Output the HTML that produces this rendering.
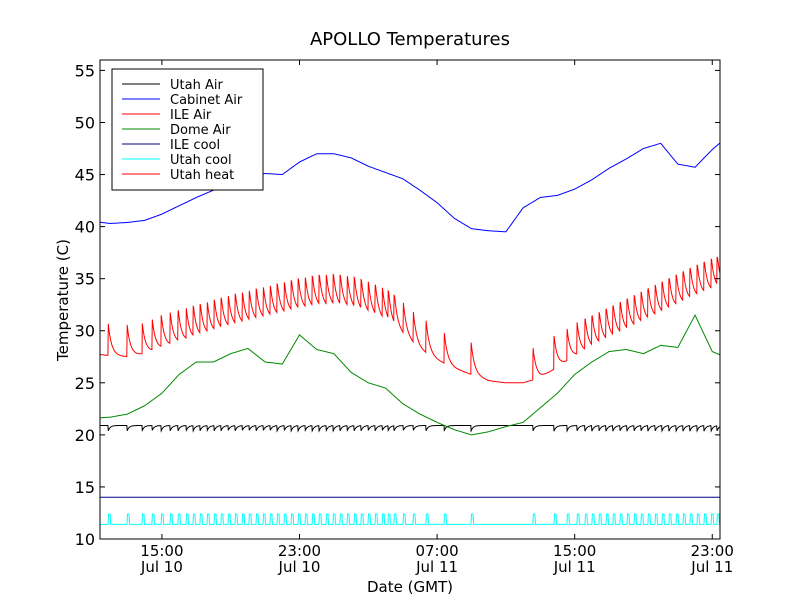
<!DOCTYPE html>
<html><head><meta charset="utf-8"><style>
body{margin:0;background:#fff}
svg{font-family:"DejaVu Sans","Liberation Sans",sans-serif}
</style></head><body>
<svg id="c" width="800" height="600" xmlns="http://www.w3.org/2000/svg"></svg>
<script>
const hours=[11,12,13,14,15,16,17,18,19,20,21,22,23,24,25,26,27,28,29,30,31,32,33,34,35,36,37,38,39,40,41,42,43,44,45,46,47,48];
const cabinetAir=[40.5,40.3,40.4,40.6,41.2,42.0,42.8,43.5,44.2,44.8,45.1,45.0,46.2,47.0,47.0,46.6,45.8,45.2,44.6,43.5,42.3,40.8,39.8,39.6,39.5,41.8,42.8,43.0,43.6,44.5,45.6,46.5,47.5,48.0,46.0,45.7,47.4,48.8];
const ileBase=[27.8,27.6,27.5,27.8,28.3,28.8,29.2,29.7,30.2,30.6,31.0,31.4,31.8,32.1,32.2,32.0,31.5,30.8,29.6,28.2,27.2,26.4,25.8,25.2,25.0,25.0,25.5,26.5,27.5,28.2,29.0,29.8,30.6,31.4,32.2,33.0,33.7,34.2];
const domeAir=[21.6,21.7,22.0,22.8,24.0,25.8,27.0,27.0,27.8,28.3,27.0,26.8,29.6,28.2,27.8,26.0,25.0,24.5,23.0,22.0,21.2,20.5,20.0,20.3,20.8,21.2,22.6,24.0,25.8,27.0,28.0,28.2,27.8,28.6,28.4,31.5,28.0,27.3];
const heaterTimes=[11.87,12.97,13.84,14.42,14.95,15.47,15.93,16.4,16.81,17.21,17.62,18.03,18.43,18.84,19.25,19.66,20.06,20.47,20.88,21.28,21.69,22.1,22.51,22.91,23.32,23.73,24.13,24.54,24.95,25.35,25.76,26.17,26.57,26.98,27.39,27.8,28.14,28.49,29.02,29.6,30.35,31.4,32.97,36.57,37.8,38.55,39.13,39.6,40.0,40.41,40.82,41.22,41.63,42.04,42.45,42.85,43.26,43.67,44.07,44.48,44.89,45.3,45.7,46.11,46.52,46.93,47.27];
const ileSpike=3.2, utahAirLevel=20.9, utahAirDip=0.55, utahHeatLow=11.4, utahHeatHigh=12.4, ileCool=14.0;
const yTicks=[10,15,20,25,30,35,40,45,50,55];
const xTickHours=[15,23,31,39,47];
const xTickLabels=[["15:00","Jul 10"],["23:00","Jul 10"],["07:00","Jul 11"],["15:00","Jul 11"],["23:00","Jul 11"]];
const legendNames=["Utah Air","Cabinet Air","ILE Air","Dome Air","ILE cool","Utah cool","Utah heat"];
const legendColors=["#000","#00f","#f00","#080","#008","#0ff","#f00"];

const L=100,R=720,T=60,B=539,h0=11.4,h1=47.45,y0=10,y1=56;
const X=h=>L+(h-h0)/(h1-h0)*(R-L);
const Y=v=>B-(v-y0)/(y1-y0)*(B-T);
const svg=document.getElementById('c');
const NS='http://www.w3.org/2000/svg';
function el(tag,attrs,parent){const e=document.createElementNS(NS,tag);for(const k in attrs)e.setAttribute(k,attrs[k]);(parent||svg).appendChild(e);return e;}
function interp(arr,h){if(h<=hours[0])return arr[0];for(let i=0;i<hours.length-1;i++){if(h<=hours[i+1]){const t=(h-hours[i])/(hours[i+1]-hours[i]);return arr[i]+t*(arr[i+1]-arr[i]);}}return arr[arr.length-1];}
const clip=el('clipPath',{id:'pc'});el('rect',{x:L,y:T,width:R-L,height:B-T},clip);
function line(pts,color,name){const p=el('polyline',{points:pts.map(q=>q[0].toFixed(1)+','+q[1].toFixed(1)).join(' '),fill:'none',stroke:color,'stroke-width':1,'clip-path':'url(#pc)'});

}
const step=0.02;
// series
let pts=[];
for(let h=h0;h<=h1;h+=step){let d=0;for(const t of heaterTimes){if(h>=t)d=Math.max(d,Math.exp(-(h-t)/0.12));}pts.push([X(h),Y(utahAirLevel-utahAirDip*d)]);}
line(pts,'#000','utah-air-line');
pts=[];for(let h=h0;h<=h1;h+=step)pts.push([X(h),Y(interp(cabinetAir,h))]);line(pts,'#00f','cabinet-air-line');
pts=[];for(let h=h0;h<=h1;h+=step){let d=0;for(const t of heaterTimes){if(h>=t)d+=Math.exp(-(h-t)/0.2);}pts.push([X(h),Y(interp(ileBase,h)+ileSpike*Math.min(d,1))]);}line(pts,'#f00','ile-air-line');
pts=[];for(let h=h0;h<=h1;h+=step)pts.push([X(h),Y(interp(domeAir,h))]);line(pts,'#080','dome-air-line');
line([[X(h0),Y(ileCool)],[X(h1),Y(ileCool)]],'#008','ile-cool-line');
pts=[[X(h0),Y(utahHeatLow)]];for(const t of heaterTimes){pts.push([X(t),Y(utahHeatLow)],[X(t)+0.5,Y(utahHeatHigh)],[X(t)+2,Y(utahHeatHigh)],[X(t)+2.5,Y(utahHeatLow)]);}pts.push([X(h1),Y(utahHeatLow)]);line(pts,'#0ff','utah-heat-line');
// axes frame
const fr=el('rect',{x:L,y:T,width:R-L,height:B-T,fill:'none',stroke:'#000','stroke-width':1});


yTicks.forEach(v=>{const y=Y(v);el('line',{x1:L,x2:L+5,y1:y,y2:y,stroke:'#000'});el('line',{x1:R,x2:R-5,y1:y,y2:y,stroke:'#000'});
const t=el('text',{x:L-5,y:y+6,'text-anchor':'end','font-size':16});t.textContent=v;

});
xTickHours.forEach((hh,i)=>{const x=X(hh);el('line',{x1:x,x2:x,y1:B,y2:B-5,stroke:'#000'});el('line',{x1:x,x2:x,y1:T,y2:T+5,stroke:'#000'});
const t=el('text',{x:x,y:556,'text-anchor':'middle','font-size':15});t.textContent=xTickLabels[i][0];


const t2=el('text',{x:x,y:572,'text-anchor':'middle','font-size':15});t2.textContent=xTickLabels[i][1];

});
const ti=el('text',{x:410,y:45,'text-anchor':'middle','font-size':18});ti.textContent='APOLLO Temperatures';


const xl=el('text',{x:410,y:592,'text-anchor':'middle','font-size':15});xl.textContent='Date (GMT)';


const yl=el('text',{x:0,y:0,'text-anchor':'middle','font-size':15,transform:'translate(68,300) rotate(-90)'});yl.textContent='Temperature (C)';


// legend
const lg=el('g',{});


el('rect',{x:112,y:69,width:151,height:121,fill:'#fff',stroke:'#000'},lg);
legendNames.forEach((n,i)=>{const y=84+i*15;const g=el('g',{},lg);


el('line',{x1:122,x2:160,y1:y,y2:y,stroke:legendColors[i]},g);const t=el('text',{x:170,y:y+5,'font-size':13},g);t.textContent=n;});
</script>
</body></html>
